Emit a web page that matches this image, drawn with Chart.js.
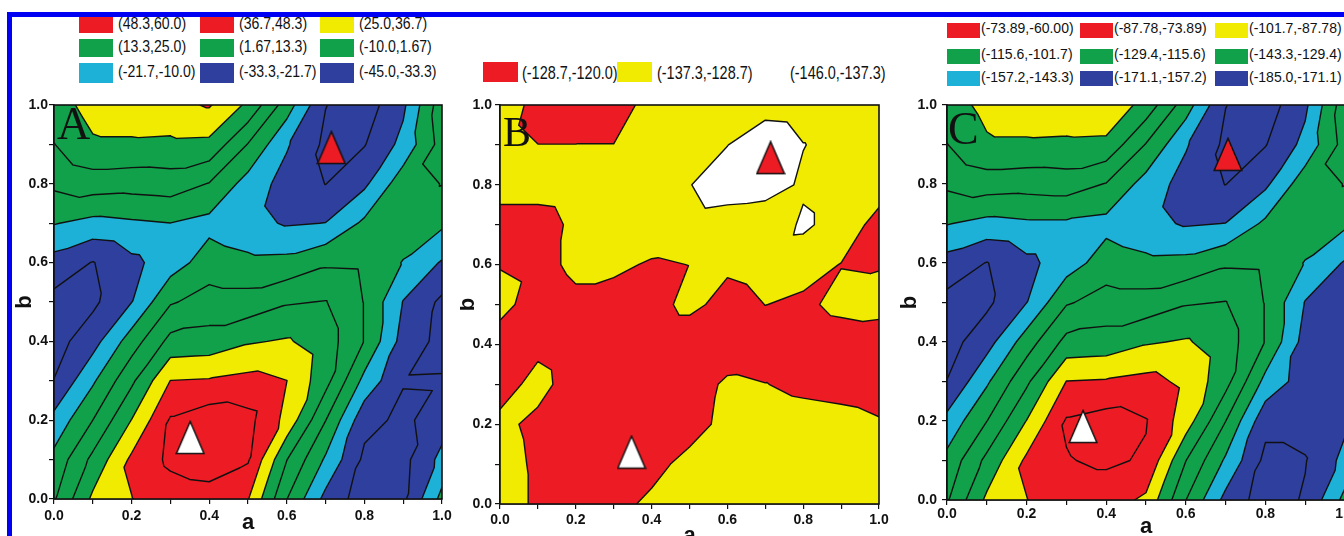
<!DOCTYPE html>
<html lang="en">
<head>
<meta charset="UTF-8" />
<title>Contour maps A, B, C</title>
<script src="https://cdn.jsdelivr.net/npm/chart.js@4.4.1/dist/chart.umd.min.js"></script>
<style>
  html, body { margin: 0; padding: 0; background: #fff; width: 1344px; height: 536px; overflow: hidden; position: relative; }
  canvas { position: absolute; }
  .frame { position: absolute; left: 7px; top: 12px; width: 1400px; height: 600px; border-left: 5px solid #0000f2; border-top: 5px solid #0000f2; z-index: 5; pointer-events: none; }
  .box { position: absolute; }
  .lbl { position: absolute; white-space: nowrap; color: #111; line-height: 20px; height: 20px; transform-origin: left center; }
</style>
</head>
<body>
<div class="frame"></div>
<div id="legends"></div>
<canvas id="chartA" width="460" height="446" style="left:0px;top:90px"></canvas>
<canvas id="chartB" width="440" height="465" style="left:460px;top:90px"></canvas>
<canvas id="chartC" width="460" height="455" style="left:900px;top:90px"></canvas>
<script>
// grid nodes of every map (a across, b from top row to bottom row)
const aGrid = [0.0, 0.1, 0.2, 0.3, 0.4, 0.5, 0.6, 0.7, 0.8, 0.9, 1.0];
const bGrid = [1.0, 0.9, 0.8, 0.7, 0.6, 0.5, 0.4, 0.3, 0.2, 0.1, 0.0];

// contour levels and legend texts (legend lists run from the highest band down)
const levelsA = [-45.0, -33.3, -21.7, -10.0, 1.67, 13.3, 25.0, 36.7, 48.3, 60.0];
const levelsB = [-146.0, -137.3, -128.7, -120.0];
const levelsC = [-185.0, -171.1, -157.2, -143.3, -129.4, -115.6, -101.7, -87.78, -73.89, -60.00];
const legendA = ['(48.3,60.0)', '(36.7,48.3)', '(25.0,36.7)', '(13.3,25.0)', '(1.67,13.3)', '(-10.0,1.67)', '(-21.7,-10.0)', '(-33.3,-21.7)', '(-45.0,-33.3)'];
const legendB = ['(-128.7,-120.0)', '(-137.3,-128.7)', '(-146.0,-137.3)'];
const legendC = ['(-73.89,-60.00)', '(-87.78,-73.89)', '(-101.7,-87.78)', '(-115.6,-101.7)', '(-129.4,-115.6)', '(-143.3,-129.4)', '(-157.2,-143.3)', '(-171.1,-157.2)', '(-185.0,-171.1)'];

// surface values
const gridA = [
  [19.2, 29.7, 32.0, 33.2, 37.8, 22.7, -4.2, -33.0, -39.2, -24.0, 8.7],
  [13.0, 23.3, 23.3, 22.7, 22.1, 1.1, -20.5, -35.7, -33.9, -18.2, 6.3],
  [4.0, 7.5, 6.3, 7.5, 1.1, -14.7, -26.3, -33.5, -24.0, -3.0, 2.0],
  [-9.4, -13.5, -11.7, -10.1, -13.5, -18.2, -22.8, -21.5, -7.7, -3.0, -7.7],
  [-26.3, -33.8, -24.6, -15.8, -4.2, -7.1, -6.5, -0.1, -0.7, -10.6, -22.8],
  [-36.8, -35.7, -21.9, 0.5, 6.3, 6.3, 12.2, 13.8, 1.2, -22.2, -35.7],
  [-38.0, -26.3, -4.2, 16.8, 18.0, 23.8, 26.2, 19.2, 1.2, -26.3, -36.8],
  [-33.0, -11.7, 11.0, 36.9, 37.8, 40.2, 36.8, 17.4, -13.5, -32.7, -32.5],
  [-18.2, 1.7, 25.3, 49.5, 55.3, 51.8, 33.2, 1.9, -29.8, -35.7, -27.5],
  [-6.5, 16.3, 39.0, 50.7, 54.2, 49.5, 13.6, -11.7, -35.7, -36.8, -18.2],
  [0.5, 27.3, 36.4, 42.5, 43.7, 37.3, 1.9, -25.2, -39.2, -35.7, -6.5]
];
const gridB = [
  [-136.5, -124.3, -123.5, -125.2, -131.3, -133.0, -133.9, -133.0, -132.1, -132.1, -133.9],
  [-133.0, -128.8, -128.8, -128.8, -132.1, -134.7, -137.1, -144.3, -137.6, -133.9, -133.0],
  [-132.1, -132.1, -133.0, -133.9, -134.7, -136.9, -143.4, -142.5, -135.6, -133.0, -132.1],
  [-125.2, -125.2, -130.4, -133.0, -133.9, -133.0, -131.3, -129.5, -139.1, -133.0, -126.1],
  [-128.2, -126.1, -130.4, -130.4, -127.8, -128.8, -130.4, -132.1, -131.3, -128.5, -128.2],
  [-132.1, -123.5, -126.9, -125.2, -125.2, -131.3, -125.2, -128.8, -127.4, -130.4, -131.3],
  [-123.5, -126.1, -122.6, -121.7, -121.7, -121.7, -122.6, -123.5, -124.3, -125.2, -124.3],
  [-124.3, -132.1, -123.5, -121.7, -121.7, -123.5, -130.4, -128.9, -126.9, -126.1, -125.2],
  [-131.3, -126.1, -122.6, -121.7, -122.6, -125.2, -131.3, -133.0, -132.1, -131.3, -129.5],
  [-133.0, -126.9, -123.5, -122.6, -126.1, -131.3, -133.0, -133.0, -133.0, -132.1, -131.3],
  [-133.9, -126.9, -124.3, -126.1, -130.4, -132.1, -133.0, -133.0, -133.0, -133.0, -132.1]
];
const gridC = [
  [-108.6, -97.5, -93.3, -91.9, -89.9, -107.2, -136.4, -170.8, -178.1, -160.0, -121.1],
  [-115.9, -103.7, -103.7, -104.4, -105.1, -130.1, -155.8, -173.9, -171.8, -153.1, -123.9],
  [-126.7, -122.5, -123.9, -122.5, -130.1, -148.9, -162.8, -171.4, -160.0, -135.0, -129.0],
  [-142.6, -147.5, -145.4, -145.4, -147.5, -153.1, -158.6, -157.0, -140.6, -135.0, -140.6],
  [-162.8, -171.6, -160.7, -150.3, -136.4, -139.9, -139.2, -131.5, -132.2, -144.0, -158.6],
  [-175.3, -173.9, -157.4, -130.8, -123.9, -123.9, -116.9, -115.1, -130.1, -157.9, -169.7],
  [-176.7, -162.8, -136.4, -111.4, -110.0, -103.1, -100.3, -108.6, -130.1, -162.8, -169.7],
  [-170.8, -145.4, -118.3, -87.5, -86.4, -83.6, -90.6, -110.7, -147.5, -164.2, -164.2],
  [-153.1, -129.6, -101.3, -72.5, -68.3, -73.2, -94.7, -129.2, -166.9, -166.9, -160.0],
  [-139.2, -112.1, -85.0, -74.6, -71.8, -75.3, -115.3, -145.4, -174.6, -171.8, -153.1],
  [-130.8, -98.9, -88.1, -80.8, -80.8, -90.6, -129.2, -161.4, -178.1, -169.7, -139.2]
];

// marked points: white = maximum, red = minimum
const maxPtA = [{ x: 0.351, y: 0.156 }];
const minPtA = [{ x: 0.715, y: 0.892 }];
const maxPtB = [{ x: 0.347, y: 0.130 }];
const minPtB = [{ x: 0.714, y: 0.868 }];
const maxPtC = [{ x: 0.342, y: 0.186 }];
const minPtC = [{ x: 0.706, y: 0.875 }];

const RED = '#ED1C24', YELLOW = '#F0EB00', GREEN = '#10A14A', CYAN = '#1DB1D8', BLUE = '#2E3F9E', WHITE = '#FFFFFF';
const bandsAC = [BLUE, BLUE, CYAN, GREEN, GREEN, GREEN, YELLOW, RED, RED]; // low -> high
const bandsB = [WHITE, YELLOW, RED];

const sans = "'Liberation Sans', Arial, sans-serif";

// ---------- legends (html) ----------
const legendsEl = document.getElementById('legends');
function addItem(color, text, bx, by, bw, bh, tx, cy, font, squeeze) {
  const s = document.createElement('div');
  s.className = 'lbl';
  s.style.cssText = `left:${tx}px;top:${cy - 10}px;font:${font};transform:scaleX(${squeeze})`;
  s.textContent = text;
  legendsEl.appendChild(s);
  if (color) {
    const b = document.createElement('div');
    b.className = 'box';
    b.style.cssText = `left:${bx}px;top:${by}px;width:${bw}px;height:${bh}px;background:${color}`;
    legendsEl.appendChild(b);
  }
}
const colsA = [79, 200, 320], rowsA = [[17, 16], [39, 18], [63, 20]];
legendA.forEach((t, k) => {
  const r = Math.floor(k / 3), c = k % 3;
  const [top, h] = rowsA[r];
  addItem(bandsAC[8 - k], t, colsA[c], top, 34, h, colsA[c] + 39, top + h / 2, `16px ${sans}`, 0.88);
});
const colsC = [947, 1080, 1215], rowsC = [30, 56, 78.5];
legendC.forEach((t, k) => {
  const r = Math.floor(k / 3), c = k % 3;
  addItem(bandsAC[8 - k], t, colsC[c], rowsC[r] - 7.5, 33, 15, colsC[c] + 34, rowsC[r], `14px ${sans}`, 1);
});
const boxB = [483, 617, null], textB = [522, 657, 790];
legendB.forEach((t, k) => {
  addItem(boxB[k] === null ? null : bandsB[2 - k], t, boxB[k], 62, 35, 20, textB[k], 72, `19px ${sans}`, 0.76);
});

// ---------- surface helpers ----------
function zAt(grid, a, b) {
  const sa = aGrid[1] - aGrid[0], sb = bGrid[0] - bGrid[1];
  const nc = aGrid.length - 1, nr = bGrid.length - 1;
  let i = Math.floor((a - aGrid[0]) / sa); i = Math.max(0, Math.min(nc - 1, i));
  let r = Math.floor((bGrid[0] - b) / sb); r = Math.max(0, Math.min(nr - 1, r));
  const u = (a - aGrid[i]) / sa, v = (b - bGrid[r + 1]) / sb;
  const z00 = grid[r + 1][i], z10 = grid[r + 1][i + 1], z01 = grid[r][i], z11 = grid[r][i + 1];
  if (u >= v) return z00 + u * (z10 - z00) + v * (z11 - z10);
  return z00 + v * (z01 - z00) + u * (z11 - z01);
}
function bandOf(levels, z) {
  for (let k = levels.length - 2; k >= 0; k--) if (z >= levels[k]) return k;
  return 0;
}
function segments(grid, level) {
  const out = [];
  for (let r = 0; r < bGrid.length - 1; r++) {
    for (let i = 0; i < aGrid.length - 1; i++) {
      const p00 = [aGrid[i], bGrid[r + 1], grid[r + 1][i]], p10 = [aGrid[i + 1], bGrid[r + 1], grid[r + 1][i + 1]];
      const p01 = [aGrid[i], bGrid[r], grid[r][i]], p11 = [aGrid[i + 1], bGrid[r], grid[r][i + 1]];
      for (const tri of [[p00, p10, p11], [p00, p01, p11]]) {
        const pts = [];
        for (let e = 0; e < 3; e++) {
          const p = tri[e], q = tri[(e + 1) % 3];
          if ((p[2] - level) * (q[2] - level) < 0) {
            const t = (level - p[2]) / (q[2] - p[2]);
            pts.push([p[0] + t * (q[0] - p[0]), p[1] + t * (q[1] - p[1])]);
          }
        }
        if (pts.length === 2) out.push(pts);
      }
    }
  }
  return out;
}
function hexRgb(h) { const n = parseInt(h.slice(1), 16); return [(n >> 16) & 255, (n >> 8) & 255, n & 255]; }

function triangleImage(fill) {
  const c = document.createElement('canvas');
  c.width = 30; c.height = 35;
  const g = c.getContext('2d');
  g.beginPath(); g.moveTo(15, 1.5); g.lineTo(1.2, 33.5); g.lineTo(28.8, 33.5); g.closePath();
  g.fillStyle = fill; g.fill();
  g.lineWidth = 1.5; g.strokeStyle = '#111'; g.stroke();
  return c;
}
const redTri = triangleImage(RED), whiteTri = triangleImage(WHITE);

function contourPlugin(p) {
  return {
    id: 'contour' + p.letter,
    beforeDatasetsDraw(chart) {
      const { ctx, chartArea: ca, scales: { x, y } } = chart;
      const L = Math.round(ca.left), T = Math.round(ca.top);
      const W = Math.round(ca.right) - L, H = Math.round(ca.bottom) - T;
      const off = document.createElement('canvas');
      off.width = W; off.height = H;
      const g = off.getContext('2d');
      const img = g.createImageData(W, H);
      const rgb = p.colors.map(hexRgb);
      const av = [], bv = [];
      for (let i = 0; i < W; i++) av.push(x.getValueForPixel(L + i + 0.5));
      for (let j = 0; j < H; j++) bv.push(y.getValueForPixel(T + j + 0.5));
      for (let j = 0; j < H; j++) {
        for (let i = 0; i < W; i++) {
          const c = rgb[bandOf(p.levels, zAt(p.grid, av[i], bv[j]))];
          const o = (j * W + i) * 4;
          img.data[o] = c[0]; img.data[o + 1] = c[1]; img.data[o + 2] = c[2]; img.data[o + 3] = 255;
        }
      }
      g.putImageData(img, 0, 0);
      ctx.save();
      ctx.drawImage(off, L, T);
      ctx.beginPath(); ctx.rect(ca.left, ca.top, ca.right - ca.left, ca.bottom - ca.top); ctx.clip();
      // contour lines at every inner level
      ctx.strokeStyle = '#111'; ctx.lineWidth = 1.4; ctx.lineCap = 'round';
      ctx.beginPath();
      for (let k = 1; k < p.levels.length - 1; k++) {
        for (const s of segments(p.grid, p.levels[k])) {
          ctx.moveTo(x.getPixelForValue(s[0][0]), y.getPixelForValue(s[0][1]));
          ctx.lineTo(x.getPixelForValue(s[1][0]), y.getPixelForValue(s[1][1]));
        }
      }
      ctx.stroke();
      ctx.restore();
      // frame and panel letter
      ctx.save();
      ctx.strokeStyle = '#111'; ctx.lineWidth = 1.6;
      ctx.strokeRect(ca.left, ca.top, ca.right - ca.left, ca.bottom - ca.top);
      ctx.fillStyle = '#111';
      ctx.font = `${p.letterSize}px 'Liberation Serif', 'Times New Roman', serif`;
      ctx.textBaseline = 'alphabetic';
      ctx.fillText(p.letter, ca.left + p.letterDx, ca.top + p.letterDy);
      ctx.restore();
    }
  };
}

const tickFont = { family: sans, size: 14, weight: 'bold' };
const titleFont = { family: sans, size: 22, weight: 'bold' };
const fmtTick = (v) => (Math.round(v * 10) % 2 === 0 ? v.toFixed(1) : '');

function makeChart(id, p) {
  return new Chart(document.getElementById(id), {
    type: 'scatter',
    data: {
      datasets: [
        { data: p.maxPt, pointStyle: whiteTri, pointRadius: 14 },
        { data: p.minPt, pointStyle: redTri, pointRadius: 14 }
      ]
    },
    options: {
      responsive: false,
      animation: false,
      devicePixelRatio: 1,
      layout: { padding: { left: 0, top: p.padTop, right: p.padRight, bottom: 0 } },
      plugins: { legend: { display: false }, tooltip: { enabled: false } },
      scales: {
        x: {
          type: 'linear', min: 0, max: 1, position: 'bottom',
          afterFit: (s) => { s.height = p.xAxisH; },
          ticks: { stepSize: 0.1, autoSkip: false, maxRotation: 0, padding: p.xTickPad, color: '#111', font: tickFont, callback: fmtTick },
          grid: { drawOnChartArea: false, tickLength: 5, color: '#111', lineWidth: 1.2 },
          border: { color: '#111', width: 1.6 },
          title: { display: true, text: 'a', color: '#111', font: titleFont, padding: { top: 0, bottom: p.xTitlePad } }
        },
        y: {
          type: 'linear', min: 0, max: 1, position: 'left',
          afterFit: (s) => { s.width = p.yAxisW; },
          ticks: { stepSize: 0.1, autoSkip: false, padding: p.yTickPad, color: '#111', font: tickFont, callback: fmtTick },
          grid: { drawOnChartArea: false, tickLength: 5, color: '#111', lineWidth: 1.2 },
          border: { color: '#111', width: 1.6 },
          title: { display: true, text: 'b', color: '#111', font: titleFont, padding: { top: p.yTitlePad, bottom: 0 } }
        }
      }
    },
    plugins: [contourPlugin(p)]
  });
}

makeChart('chartA', {
  letter: 'A', grid: gridA, levels: levelsA, colors: bandsAC, maxPt: maxPtA, minPt: minPtA,
  padTop: 14, padRight: 18, yAxisW: 54, xAxisH: 37, xTickPad: 4, xTitlePad: 0, yTickPad: 1, yTitlePad: 12,
  letterSize: 46, letterDx: 3, letterDy: 34
});
makeChart('chartB', {
  letter: 'B', grid: gridB, levels: levelsB, colors: bandsB, maxPt: maxPtB, minPt: minPtB,
  padTop: 12, padRight: 21, yAxisW: 40, xAxisH: 51, xTickPad: 3, xTitlePad: 6, yTickPad: 3, yTitlePad: -5,
  letterSize: 42, letterDx: 3, letterDy: 41
});
makeChart('chartC', {
  letter: 'C', grid: gridC, levels: levelsC, colors: bandsAC, maxPt: maxPtC, minPt: minPtC,
  padTop: 14, padRight: 13, yAxisW: 47, xAxisH: 45, xTickPad: 1, xTitlePad: 5, yTickPad: 5, yTitlePad: -3,
  letterSize: 46, letterDx: 1, letterDy: 39
});
</script>
</body>
</html>
